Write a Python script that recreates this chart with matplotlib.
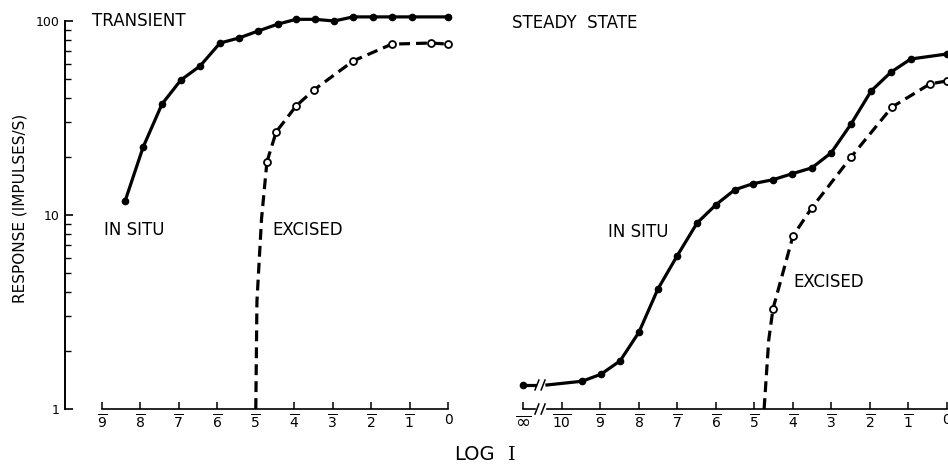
import matplotlib
matplotlib.use("Agg")
import matplotlib.pyplot as plt
from matplotlib.ticker import FixedLocator, FixedFormatter, NullFormatter

W, H = 948, 466

# ---- data (log I on x, response in impulses/s on y) ----
# transient, in situ (filled)
tr_situ_x = [-8.40, -7.93, -7.44, -6.95, -6.45, -5.93, -5.44, -4.94, -4.42,
             -3.95, -3.46, -2.96, -2.47, -1.95, -1.46, -0.94, 0.0]
tr_situ_y = [11.8, 22.4, 37.3, 49.6, 58.6, 77.0, 81.7, 88.8, 96.5,
             102, 102, 100, 105, 105, 105, 105, 105]
# transient, excised (open)
tr_exc_x = [-4.71, -4.47, -3.95, -3.49, -2.47, -1.46, -0.44, 0.0]
tr_exc_y = [18.8, 26.8, 36.5, 44.1, 62.2, 76.0, 77.0, 76.0]
# drop of the excised curve to threshold (line only)
tr_thr_x = [-5.0, -4.97, -4.85]
tr_thr_y = [1.0, 3.6, 9.6]

# steady state, in situ; first value is at log I = -inf
ss_situ_inf_y = 1.33
ss_situ_x = [-9.48, -8.99, -8.49, -8.0, -7.51, -7.01, -6.49, -6.0, -5.51, -5.04,
             -4.52, -4.03, -3.51, -3.01, -2.49, -1.97, -1.45, -0.94, 0.0]
ss_situ_y = [1.39, 1.51, 1.77, 2.49, 4.15, 6.15, 9.1, 11.3, 13.5, 14.5,
             15.2, 16.3, 17.5, 20.9, 29.5, 43.6, 54.6, 63.7, 67.6]
# steady state, excised
ss_exc_x = [-4.52, -4.0, -3.51, -2.49, -1.43, -0.44, 0.0]
ss_exc_y = [3.28, 7.8, 10.9, 19.9, 36.0, 47.4, 49.1]
ss_thr_x = [-4.75, -4.63]
ss_thr_y = [1.0, 2.27]

tr_ticks = list(range(-9, 1))
ss_ticks = [-11] + list(range(-10, 1))
INF_X = -11          # where the "infinity" point sits on the axis
BREAK_X = -10.57     # axis break

def bar(n):
    return "0" if n == 0 else r"$\overline{%s}$" % n

tr_labels = [bar(-t) for t in tr_ticks]
ss_labels = [r"$\overline{\infty}$"] + [bar(-t) for t in ss_ticks[1:]]

LW = 2.3
DASH = (3.4, 1.9)

fig = plt.figure(figsize=(W / 100, H / 100), dpi=100)
fig.patch.set_facecolor("white")

def box(l, r, t, b):
    return [l / W, 1 - b / H, (r - l) / W, (b - t) / H]

axl = fig.add_axes(box(65, 460, 21, 409))
axr = fig.add_axes(box(515, 948, 21, 409))

for ax in (axl, axr):
    ax.set_yscale("log")
    ax.set_ylim(1, 100)
    ax.set_facecolor("none")
    for s in ("top", "right"):
        ax.spines[s].set_visible(False)
    ax.spines["bottom"].set_linewidth(1.2)
    ax.tick_params(axis="x", direction="in", length=5, width=1.1,
                   labelsize=10, pad=3)

# left panel
axl.set_xlim(-9.963, 0.312)
axl.spines["bottom"].set_bounds(-9, 0)
axl.spines["left"].set_bounds(1, 100)
axl.spines["left"].set_linewidth(1.4)
axl.xaxis.set_major_locator(FixedLocator(tr_ticks))
axl.xaxis.set_major_formatter(FixedFormatter(tr_labels))
axl.yaxis.set_major_locator(FixedLocator([1, 10, 100]))
axl.yaxis.set_major_formatter(FixedFormatter(["1", "10", "100"]))
axl.yaxis.set_minor_locator(FixedLocator([m * d for d in (1, 10) for m in range(2, 10)]))
axl.yaxis.set_minor_formatter(NullFormatter())
axl.tick_params(axis="y", which="major", direction="in", length=6, width=1.2,
                labelsize=9, pad=4)
axl.tick_params(axis="y", which="minor", direction="in", length=4, width=1.0)

axl.plot(tr_situ_x, tr_situ_y, color="black", lw=LW, marker="o", ms=4.5,
         clip_on=False, zorder=3)
axl.plot(tr_thr_x + tr_exc_x[:1], tr_thr_y + tr_exc_y[:1], color="black",
         lw=LW, dashes=DASH, clip_on=False)
axl.plot(tr_exc_x, tr_exc_y, color="black", lw=LW, dashes=DASH, marker="o",
         ms=5, mfc="white", mec="black", mew=1.3, clip_on=False, zorder=3)

# right panel
axr.set_xlim(-11.22, 0.026)
axr.spines["left"].set_visible(False)
axr.spines["bottom"].set_bounds(BREAK_X + 0.18, 0)
axr.set_yticks([])
axr.yaxis.set_minor_locator(FixedLocator([]))
axr.xaxis.set_major_locator(FixedLocator(ss_ticks))
axr.xaxis.set_major_formatter(FixedFormatter(ss_labels))
axr.get_xticklabels()[0].set_fontsize(13)

xt = axr.get_xaxis_transform()
axr.plot([INF_X, BREAK_X - 0.13], [0, 0], color="black", lw=1.2,
         transform=xt, clip_on=False)
for dx in (-0.08, 0.08):
    axr.plot([BREAK_X + dx - 0.05, BREAK_X + dx + 0.05], [-0.013, 0.013],
             color="black", lw=1.1, transform=xt, clip_on=False)
    axr.plot([BREAK_X + dx - 0.05, BREAK_X + dx + 0.05],
             [ss_situ_inf_y / 1.06, ss_situ_inf_y * 1.06],
             color="black", lw=1.1, clip_on=False)

axr.plot([INF_X, BREAK_X - 0.13], [ss_situ_inf_y, ss_situ_inf_y],
         color="black", lw=LW, clip_on=False)
axr.plot([INF_X], [ss_situ_inf_y], color="black", marker="o", ms=4.5,
         clip_on=False, zorder=3)
axr.plot([BREAK_X + 0.18] + ss_situ_x, [ss_situ_inf_y] + ss_situ_y,
         color="black", lw=LW, clip_on=False)
axr.plot(ss_situ_x, ss_situ_y, color="black", lw=0, marker="o", ms=4.5,
         clip_on=False, zorder=3)
axr.plot(ss_thr_x + ss_exc_x[:1], ss_thr_y + ss_exc_y[:1], color="black",
         lw=LW, dashes=DASH, clip_on=False)
axr.plot(ss_exc_x, ss_exc_y, color="black", lw=LW, dashes=DASH, marker="o",
         ms=5, mfc="white", mec="black", mew=1.3, clip_on=False, zorder=3)

# text
def ftext(x, y, s, **kw):
    fig.text(x / W, 1 - y / H, s, **kw)

ftext(92, 21, "TRANSIENT", fontsize=12, va="center")
ftext(512, 23.5, "STEADY  STATE", fontsize=12, va="center")
ftext(104, 230, "IN SITU", fontsize=12, va="center")
ftext(272, 230, "EXCISED", fontsize=12, va="center")
ftext(608, 232, "IN SITU", fontsize=12, va="center")
ftext(793, 282, "EXCISED", fontsize=12, va="center")
ftext(20, 208, "RESPONSE (IMPULSES/S)", fontsize=11, rotation=90,
      ha="center", va="center")
ftext(454, 455, "LOG", fontsize=14, va="center")
ftext(508, 455, "I", fontsize=14, va="center", family="DejaVu Serif")

fig.savefig("out.png", dpi=100, facecolor="white")
